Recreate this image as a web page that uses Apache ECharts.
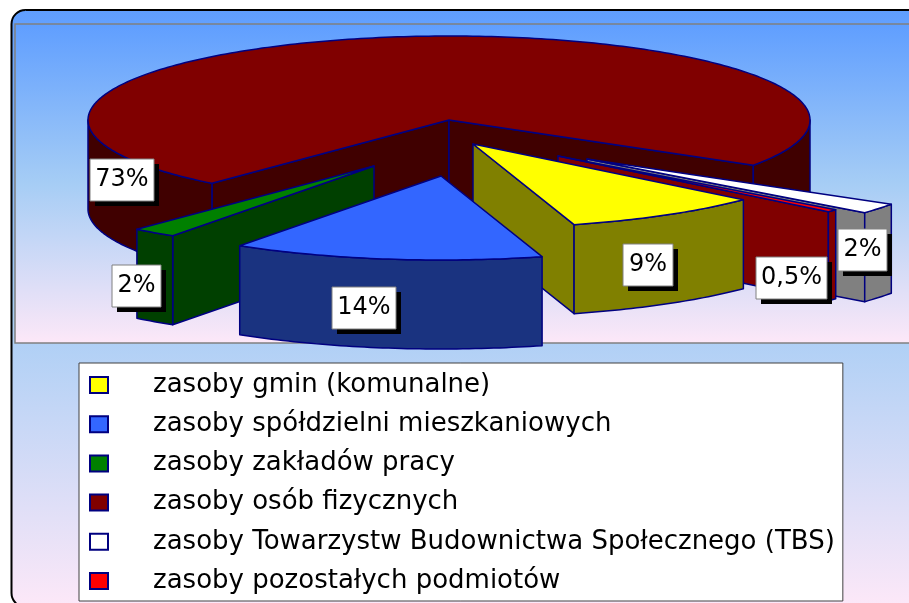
<!DOCTYPE html>
<html>
<head>
<meta charset="utf-8">
<style>html,body{margin:0;padding:0;background:#fff}#chart{width:909px;height:603px}</style>
<script src="https://cdn.jsdelivr.net/npm/echarts@6/dist/echarts.min.js"></script>
</head>
<body>
<div id="chart"></div>
<script>
// kolejnosc jak w legendzie
var categories = [
  'zasoby gmin (komunalne)',
  'zasoby spółdzielni mieszkaniowych',
  'zasoby zakładów pracy',
  'zasoby osób fizycznych',
  'zasoby Towarzystw Budownictwa Społecznego (TBS)',
  'zasoby pozostałych podmiotów'
];
var values = [9, 14, 2, 73, 2, 0.5];

var topColors  = ['#ffff00', '#3366ff', '#008000', '#800000', '#ffffff', '#ff0000'];
var sideColors = ['#808000', '#1a3380', '#004000', '#400000', '#808080', '#800000'];
var edgeColor = '#000080';

// "rzut" tortu
var pie = {cx: 449, cy: 120, rx: 361, ry: 84, depth: 89, startAngle: 131.5};
// wysuniecie kazdego kawalka
var explode = [[24, 24], [-8, 56], [-75, 46], [0, 0], [138, 39], [109, 36]];
// ramki etykiet: x, y, szer, wys
var labelBoxes = [[623, 244, 50, 42], [332, 287, 64, 42], [112, 265, 49, 42], [90, 159, 64, 42], [838, 229, 49, 42], [756, 257, 71, 42]];
// malowanie od tylu do przodu
var paintOrder = [3, 4, 5, 0, 2, 1];

var total = values.reduce(function (a, b) { return a + b; }, 0);
var angles = [];
var acc = pie.startAngle;
values.forEach(function (v) {
  var next = acc + v / total * 360;
  angles.push([acc, next]);
  acc = next;
});

function pt(ax, ay, deg, drop) {
  var t = deg * Math.PI / 180;
  return [ax + pie.rx * Math.sin(t), ay - pie.ry * Math.cos(t) + (drop || 0)];
}

function arc(ax, ay, from, to, drop) {
  var pts = [];
  var n = Math.max(2, Math.ceil(to - from));
  for (var i = 0; i <= n; i++) {
    pts.push(pt(ax, ay, from + (to - from) * i / n, drop));
  }
  return pts;
}

function poly(points, fill) {
  return {
    type: 'polygon',
    shape: {points: points},
    style: {fill: fill, stroke: edgeColor, lineWidth: 1.5, lineJoin: 'round'}
  };
}

function renderSlice(idx) {
  return function (params, api) {
    var from = angles[idx][0], to = angles[idx][1];
    var ax = pie.cx + explode[idx][0], ay = pie.cy + explode[idx][1];
    var mid = pt(ax, ay, (from + to) / 2);
    var children = [];

    // sciany radialne, tylko te widoczne od przodu
    [from, to].forEach(function (deg) {
      var p = pt(ax, ay, deg);
      var cross = (p[0] - ax) * (mid[1] - ay) - (p[1] - ay) * (mid[0] - ax);
      if (cross * (p[0] - ax) < 0) {
        children.push(poly([[ax, ay], p, [p[0], p[1] + pie.depth], [ax, ay + pie.depth]], sideColors[idx]));
      }
    });

    // sciana zewnetrzna, przednia czesc luku 90..270
    [0, 360].forEach(function (shift) {
      var a = Math.max(from, 90 + shift), b = Math.min(to, 270 + shift);
      if (b > a) {
        var upper = arc(ax, ay, a, b, 0);
        var lower = arc(ax, ay, a, b, pie.depth).reverse();
        children.push(poly(upper.concat(lower), sideColors[idx]));
      }
    });

    children.push(poly([[ax, ay]].concat(arc(ax, ay, from, to, 0)), topColors[idx]));
    return {type: 'group', children: children};
  };
}

function renderLabel(params, api) {
  var box = labelBoxes[params.dataIndex];
  var txt = String(api.value(0)).replace('.', ',') + '%';
  return {
    type: 'group',
    children: [
      {type: 'rect', shape: {x: box[0] + 5, y: box[1] + 5, width: box[2], height: box[3]}, style: {fill: '#000'}},
      {type: 'rect', shape: {x: box[0], y: box[1], width: box[2], height: box[3]}, style: {fill: '#fff', stroke: '#808080', lineWidth: 1}},
      {type: 'text', style: {
        x: box[0] + box[2] / 2, y: box[1] + box[3] / 2, text: txt,
        align: 'center', verticalAlign: 'middle',
        fill: '#000', font: '24px "DejaVu Sans"'
      }}
    ]
  };
}

var series = paintOrder.map(function (idx, i) {
  return {
    type: 'custom',
    name: categories[idx],
    coordinateSystem: 'none',
    z: 2 + i,
    silent: true,
    itemStyle: {color: topColors[idx], borderColor: edgeColor, borderWidth: 1.5},
    renderItem: renderSlice(idx),
    data: [values[idx]]
  };
});
series.push({
  type: 'custom',
  name: 'etykiety',
  coordinateSystem: 'none',
  z: 20,
  silent: true,
  renderItem: renderLabel,
  data: values.map(function (v) { return [v]; })
});

function bgGradient() {
  return new echarts.graphic.LinearGradient(0, 0, 0, 1, [
    {offset: 0, color: '#5f9eff'},
    {offset: 0.5, color: '#a6cdf5'},
    {offset: 1, color: '#fde8f8'}
  ]);
}

var chart = echarts.init(document.getElementById('chart'), null, {renderer: 'canvas'});
chart.setOption({
  animation: false,
  backgroundColor: '#fff',
  graphic: [
    {type: 'rect', z: 0, shape: {x: 11.5, y: 10, width: 912, height: 597, r: 14},
      style: {fill: bgGradient(), stroke: '#000', lineWidth: 2}},
    {type: 'rect', z: 1, shape: {x: 15, y: 24, width: 910, height: 319},
      style: {fill: bgGradient(), stroke: '#808080', lineWidth: 1.5}}
  ],
  legend: {
    orient: 'vertical',
    left: 79,
    top: 363,
    padding: [9, 8, 7, 10],
    itemGap: 13.2,
    itemWidth: 18,
    itemHeight: 16,
    icon: 'rect',
    backgroundColor: '#fff',
    borderColor: '#404040',
    borderWidth: 1,
    selectedMode: false,
    textStyle: {
      color: '#000',
      fontFamily: 'DejaVu Sans',
      fontSize: 26,
      lineHeight: 24,
      padding: [0, 0, 0, 40]
    },
    data: categories
  },
  series: series
});
</script>
</body>
</html>
